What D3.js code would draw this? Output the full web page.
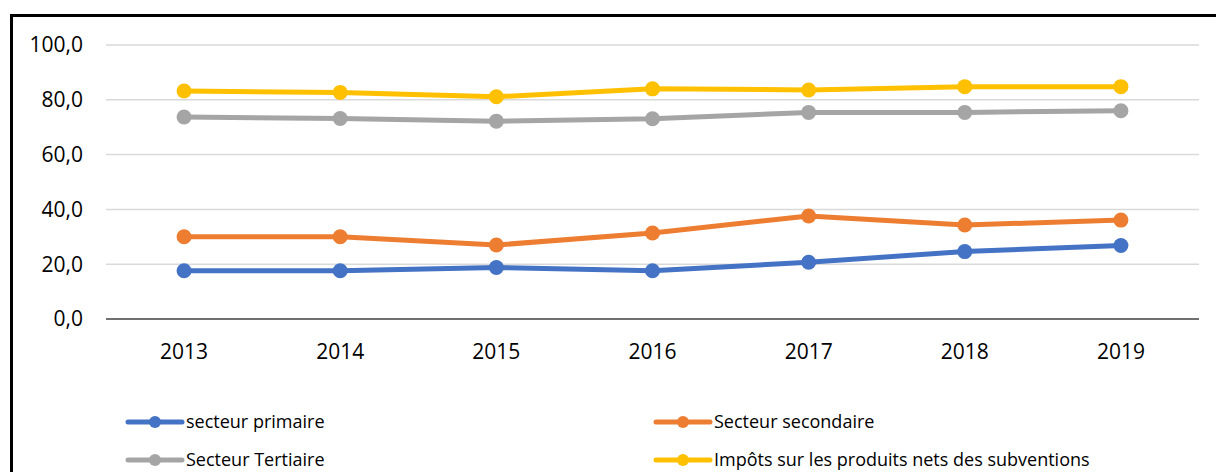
<!DOCTYPE html>
<html>
<head>
<meta charset="utf-8">
<script src="https://cdn.jsdelivr.net/npm/d3@7"></script>
<style>
  html, body { margin: 0; padding: 0; background: #fff; }
  svg { display: block; font-family: "Open Sans", sans-serif; }
</style>
</head>
<body>
<div id="container"></div>
<script>
const years = ['2013', '2014', '2015', '2016', '2017', '2018', '2019'];
const yTicks = [0, 20, 40, 60, 80, 100];

const primaire = [17.6, 17.6, 18.8, 17.6, 20.7, 24.6, 26.8];
const secondaire = [30.0, 30.0, 27.0, 31.4, 37.6, 34.3, 36.1];
const tertiaire = [73.7, 73.2, 72.2, 73.1, 75.4, 75.4, 76.0];
const impots = [83.2, 82.7, 81.1, 84.0, 83.6, 84.8, 84.8];

const seriesNames = [
    'secteur primaire',
    'Secteur secondaire',
    'Secteur Tertiaire',
    'Impôts sur les produits nets des subventions'
];
const seriesColors = ['#4472C4', '#ED7D31', '#A5A5A5', '#FFC000'];

const width = 1216;
const height = 472;
const series = [primaire, secondaire, tertiaire, impots].map((values, i) => ({
    name: seriesNames[i],
    color: seriesColors[i],
    values
}));

const svg = d3.select('#container')
    .append('svg')
    .attr('width', width)
    .attr('height', height);

// cadre du graphique (coupé en bas et à droite)
svg.append('rect')
    .attr('x', 11.5)
    .attr('y', 15.5)
    .attr('width', 1230)
    .attr('height', 480)
    .attr('fill', '#fff')
    .attr('stroke', '#000')
    .attr('stroke-width', 3);

const x = d3.scaleBand()
    .domain(years)
    .range([106, 1199]);

const y = d3.scaleLinear()
    .domain([0, 100])
    .range([319, 45]);

const fmt = d => d3.format('.1f')(d).replace('.', ',');

// grille
svg.append('g')
    .selectAll('line')
    .data(yTicks.filter(d => d > 0))
    .join('line')
    .attr('x1', x.range()[0])
    .attr('x2', x.range()[1])
    .attr('y1', d => y(d))
    .attr('y2', d => y(d))
    .attr('stroke', '#d9d9d9')
    .attr('stroke-width', 1.5);

// axe horizontal
svg.append('line')
    .attr('x1', x.range()[0])
    .attr('x2', x.range()[1])
    .attr('y1', y(0))
    .attr('y2', y(0))
    .attr('stroke', '#404040')
    .attr('stroke-width', 1.5);

svg.append('g')
    .selectAll('text')
    .data(yTicks)
    .join('text')
    .attr('x', 83)
    .attr('y', d => y(d))
    .attr('dy', '0.35em')
    .attr('text-anchor', 'end')
    .attr('font-size', 21)
    .attr('fill', '#000')
    .text(fmt);

svg.append('g')
    .selectAll('text')
    .data(years)
    .join('text')
    .attr('x', d => x(d) + x.bandwidth() / 2)
    .attr('y', 352)
    .attr('dy', '0.35em')
    .attr('text-anchor', 'middle')
    .attr('font-size', 21)
    .attr('fill', '#000')
    .text(d => d);

const line = d3.line()
    .x((d, i) => x(years[i]) + x.bandwidth() / 2)
    .y(d => y(d));

const groups = svg.append('g')
    .selectAll('g')
    .data(series)
    .join('g');

groups.append('path')
    .attr('d', d => line(d.values))
    .attr('fill', 'none')
    .attr('stroke', d => d.color)
    .attr('stroke-width', 5)
    .attr('stroke-linejoin', 'round');

groups.selectAll('circle')
    .data(d => d.values.map(v => ({ v, color: d.color })))
    .join('circle')
    .attr('cx', (d, i) => x(years[i]) + x.bandwidth() / 2)
    .attr('cy', d => y(d.v))
    .attr('r', 7.5)
    .attr('fill', d => d.color);

// légende
const legendPos = [
    { x: 128, y: 422 },
    { x: 656, y: 422 },
    { x: 128, y: 460 },
    { x: 656, y: 460 }
];

const legend = svg.append('g')
    .selectAll('g')
    .data(series)
    .join('g')
    .attr('transform', (d, i) => `translate(${legendPos[i].x},${legendPos[i].y})`);

legend.append('line')
    .attr('x1', 0)
    .attr('x2', 54)
    .attr('stroke', d => d.color)
    .attr('stroke-width', 5)
    .attr('stroke-linecap', 'round');

legend.append('circle')
    .attr('cx', 27)
    .attr('r', 6)
    .attr('fill', d => d.color);

legend.append('text')
    .attr('x', 58)
    .attr('dy', '0.35em')
    .attr('font-size', 18)
    .attr('fill', '#000')
    .text(d => d.name);
</script>
</body>
</html>
